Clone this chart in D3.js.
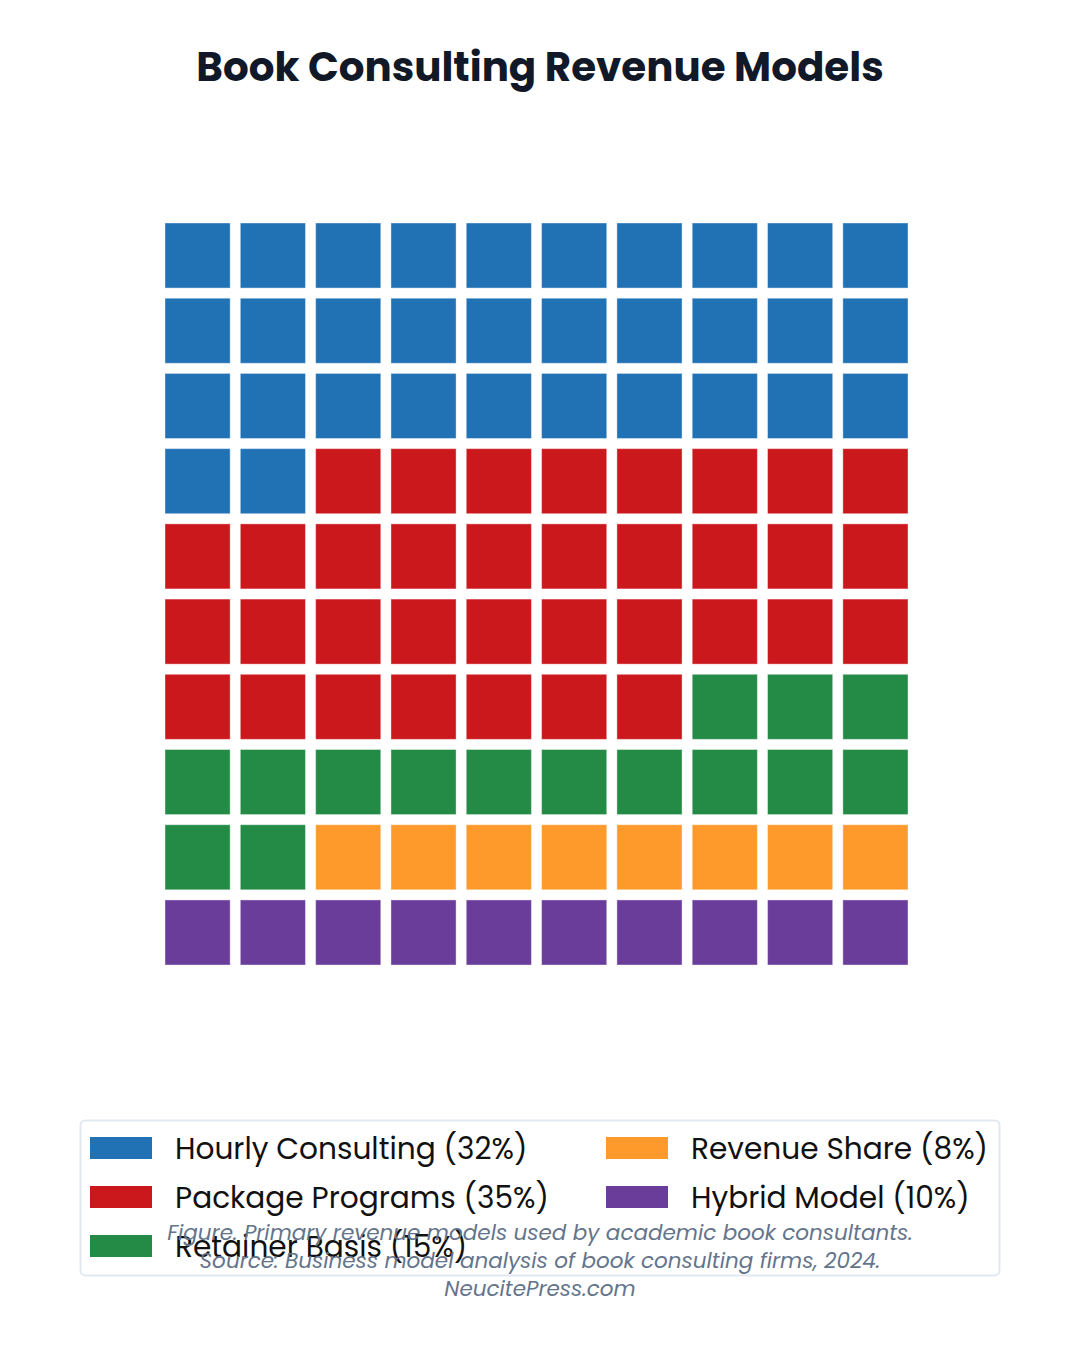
<!DOCTYPE html>
<html>
<head>
<meta charset="utf-8">
<script src="https://cdn.jsdelivr.net/npm/d3@7"></script>
<style>
  body { margin: 0; background: #fff; }
  svg { display: block; font-family: Poppins, Inter, "Noto Sans", sans-serif; }
</style>
</head>
<body>
<div id="chart"></div>
<script>
// data
var categories = ["Hourly Consulting", "Package Programs", "Retainer Basis", "Revenue Share", "Hybrid Model"];
var values = [32, 35, 15, 8, 10];
var colors = ["#2171b5", "#cb181d", "#238b45", "#fd9a2b", "#6a3d9a"];
var title = "Book Consulting Revenue Models";
var captionLines = [
    "Figure. Primary revenue models used by academic book consultants.",
    "Source: Business model analysis of book consulting firms, 2024.",
    "NeucitePress.com"
];

var width = 1080, height = 1350;
var cols = 10, rows = 10;

var svg = d3.select("#chart").append("svg")
    .attr("width", width)
    .attr("height", height);

// title
svg.append("text")
    .attr("x", width / 2)
    .attr("y", 81)
    .attr("text-anchor", "middle")
    .attr("font-size", 40.4)
    .attr("font-weight", 700)
    .attr("fill", "#111827")
    .text(title);

// one cell per unit, filled row by row
var cells = [];
categories.forEach(function(c, i) {
    for (var k = 0; k < values[i]; k++) cells.push({cat: c, i: i});
});
cells.forEach(function(d, n) {
    d.col = n % cols;
    d.row = Math.floor(n / cols);
});

var x = d3.scaleBand().domain(d3.range(cols)).range([165, 908]).paddingInner(0.135);
var y = d3.scaleBand().domain(d3.range(rows)).range([223, 965]).paddingInner(0.135);

svg.append("g").selectAll("rect")
    .data(cells)
    .enter().append("rect")
    .attr("x", function(d) { return x(d.col); })
    .attr("y", function(d) { return y(d.row); })
    .attr("width", x.bandwidth())
    .attr("height", y.bandwidth())
    .attr("fill", function(d) { return colors[d.i]; })
    .attr("stroke", "#fff")
    .attr("stroke-opacity", 0.4)
    .attr("stroke-width", 1);

// legend box
svg.append("rect")
    .attr("x", 80.5)
    .attr("y", 1120.5)
    .attr("width", 919)
    .attr("height", 155)
    .attr("rx", 5)
    .attr("fill", "#fff")
    .attr("stroke", "#e2e8f0")
    .attr("stroke-width", 2);

var legend = svg.append("g").selectAll("g")
    .data(categories)
    .enter().append("g")
    .attr("transform", function(d, i) {
        var cx = i < 3 ? 90 : 606;
        var cy = i < 3 ? 1148 + i * 49 : 1148 + (i - 3) * 49;
        return "translate(" + cx + "," + cy + ")";
    });

legend.append("rect")
    .attr("x", 0)
    .attr("y", -11)
    .attr("width", 62)
    .attr("height", 22)
    .attr("fill", function(d, i) { return colors[i]; });

legend.append("text")
    .attr("x", 85)
    .attr("y", 1)
    .attr("dy", "0.35em")
    .attr("font-size", 29.6)
    .attr("fill", "#111")
    .text(function(d, i) { return d + " (" + values[i] + "%)"; });

// caption
svg.append("g").selectAll("text")
    .data(captionLines)
    .enter().append("text")
    .attr("x", 540)
    .attr("y", function(d, i) { return 1240 + i * 28; })
    .attr("text-anchor", "middle")
    .attr("font-size", 21.5)
    .attr("font-style", "italic")
    .attr("fill", "#64748b")
    .text(function(d) { return d; });
</script>
</body>
</html>
